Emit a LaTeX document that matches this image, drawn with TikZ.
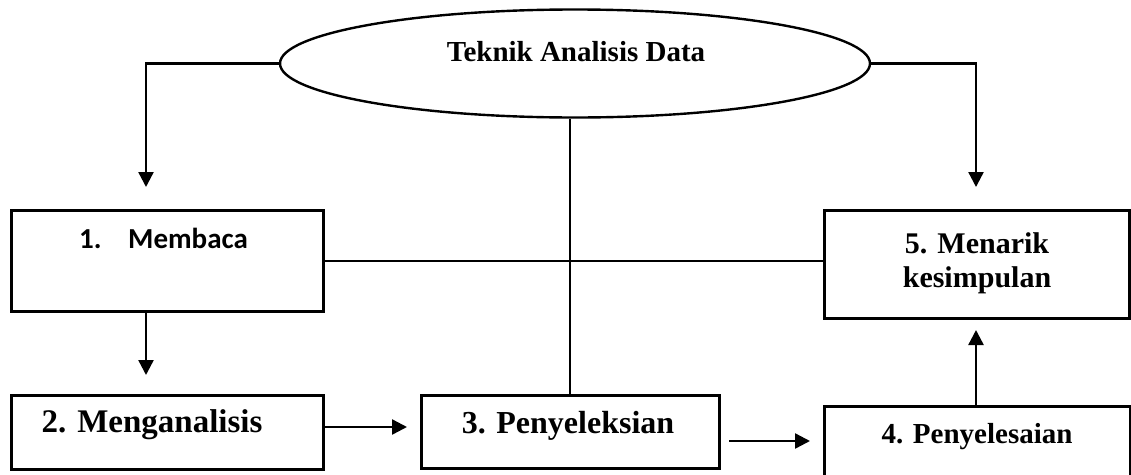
\documentclass[tikz,border=0pt]{standalone}
\usepackage{fontspec}
\setmainfont{Liberation Serif}
\newfontfamily\calfont{Carlito}
\usetikzlibrary{shapes.geometric,arrows.meta}
\begin{document}
\begin{tikzpicture}[x=1pt,y=-1pt,
  ln/.style={line width=2.2pt},
  arr/.style={line width=2.4pt,-{Triangle[width=15pt,length=15pt]}},
  boxnode/.style={draw,line width=2.6pt,rectangle,inner sep=0pt,anchor=north west},
  lbl/.style={inner sep=0pt,anchor=base,font=\bfseries}]
\useasboundingbox (0,0) rectangle (1131,474);
\fill[white] (0,0) rectangle (1131,474);
% ellipse
\node[draw,ellipse,line width=2.4pt,minimum width=590pt,minimum height=108pt,inner sep=0pt] (ell) at (575,63.5) {};
\node[lbl,font=\bfseries\fontsize{29}{34}\selectfont] (ellt) at (576,61) {Teknik Analisis Data};
% boxes
\node[boxnode,minimum width=312pt,minimum height=101pt] (b1) at (10,209) {};
\node[boxnode,minimum width=305pt,minimum height=108pt] (b5) at (823,209) {};
\node[boxnode,minimum width=312pt,minimum height=74pt] (b2) at (10,394) {};
\node[boxnode,minimum width=298pt,minimum height=73pt] (b3) at (420,394) {};
\node[boxnode,minimum width=306pt,minimum height=80pt] (b4) at (823,405) {};
% labels
\node[inner sep=0pt,anchor=base west,font=\calfont\bfseries\fontsize{29}{34}\selectfont] (b1n) at (79,248) {1.};
\node[inner sep=0pt,anchor=base west,font=\calfont\bfseries\fontsize{29}{34}\selectfont] (b1t) at (128,248) {Membaca};
\node[lbl,font=\bfseries\fontsize{30}{35}\selectfont] (b5a) at (977,253) {5. Menarik};
\node[lbl,font=\bfseries\fontsize{30}{35}\selectfont] (b5b) at (977,287) {kesimpulan};
\node[lbl,font=\bfseries\fontsize{33}{38}\selectfont] (b2t) at (152,432) {2. Menganalisis};
\node[lbl,font=\bfseries\fontsize{32}{37}\selectfont] (b3t) at (568,433) {3. Penyeleksian};
\node[lbl,font=\bfseries\fontsize{29}{34}\selectfont] (b4t) at (977,443) {4. Penyelesaian};
% coordinates
\coordinate (a1) at (146,187);
\coordinate (a5) at (976,187);
\coordinate (a2) at (146,375);
\coordinate (a3) at (407,427);
\coordinate (s4) at (729,441);
\coordinate (a4) at (810,441);
\coordinate (a6) at (976,330);
% connectors
\draw[arr] (ell.west) -| (a1);
\draw[arr] (ell.east) -| (a5);
\draw[ln] (b3.north) -- (b3.north |- ell.south);
\draw[ln] (b1.east) -- (b1.east -| b5.west);
\draw[arr] (b1.south -| a2) -- (a2);
\draw[arr] (b2.east |- a3) -- (a3);
\draw[arr] (s4) -- (a4);
\draw[arr] (b4.north -| a6) -- (a6);
\end{tikzpicture}
\end{document}
